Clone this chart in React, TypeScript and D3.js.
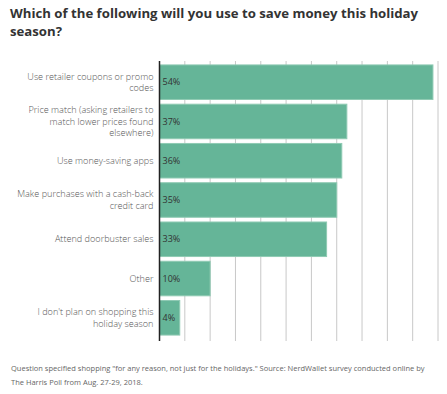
import { scaleBand, scaleLinear, range } from 'd3'

const WIDTH = 447
const HEIGHT = 394
const MARGIN = { top: 61, right: 9, bottom: 53, left: 159.5 }

const TITLE = ['Which of the following will you use to save money this holiday', 'season?']
const FOOTNOTE = [
  'Question specified shopping "for any reason, not just for the holidays."  Source: NerdWallet survey conducted online by',
  'The Harris Poll from Aug. 27-29, 2018.',
]

const categories = [
  'Use retailer coupons or promo\ncodes',
  'Price match (asking retailers to\nmatch lower prices found\nelsewhere)',
  'Use money-saving apps',
  'Make purchases with a cash-back\ncredit card',
  'Attend doorbuster sales',
  'Other',
  "I don't plan on shopping this\nholiday season",
]
const values = [54, 37, 36, 35, 33, 10, 4]
const gridTicks = range(5, 56, 5)

const FONT = '"Open Sans", sans-serif'
const BAR = '#65b598'

export default function App() {
  const x = scaleLinear().domain([0, 55]).range([MARGIN.left, WIDTH - MARGIN.right])
  const y = scaleBand<string>()
    .domain(categories)
    .range([MARGIN.top, HEIGHT - MARGIN.bottom - 2])
    .paddingInner(0.12)
    .paddingOuter(0.1)
  const lineH = 11.6

  return (
    <svg
      width={WIDTH}
      height={HEIGHT}
      style={{ position: 'absolute', left: 0, top: 0, display: 'block', background: '#fff' }}
    >
      {TITLE.map((t, i) => (
        <text key={i} x={10} y={18 + i * 17.5} fontFamily={FONT} fontWeight={700} fontSize={13.2} fill="#333">
          {t}
        </text>
      ))}

      {gridTicks.map((t) => (
        <line key={t} x1={x(t)} x2={x(t)} y1={MARGIN.top} y2={HEIGHT - MARGIN.bottom} stroke="#c8c8c8" strokeWidth={1} />
      ))}

      {categories.map((c, i) => {
        const y0 = y(c) ?? 0
        const bw = y.bandwidth()
        const cy = y0 + bw / 2
        const lines = c.split('\n')
        return (
          <g key={c}>
            <rect
              x={x(0)}
              y={y0}
              width={x(values[i]) - x(0)}
              height={bw}
              fill={BAR}
              stroke="#8fcab3"
              strokeWidth={1}
            />
            <text x={x(0) + 3} y={cy} dy="0.35em" fontFamily={FONT} fontSize={9} fill="#333">
              {values[i]}%
            </text>
            {lines.map((l, j) => (
              <text
                key={j}
                x={MARGIN.left - 6}
                y={cy + (j - (lines.length - 1) / 2) * lineH}
                dy="0.35em"
                textAnchor="end"
                fontFamily={FONT}
                fontWeight={300}
                fontSize={9.1}
                fill="#555"
              >
                {l}
              </text>
            ))}
          </g>
        )
      })}

      <line x1={x(0)} x2={x(0)} y1={MARGIN.top} y2={HEIGHT - MARGIN.bottom} stroke="#222" strokeWidth={1.5} />

      {FOOTNOTE.map((t, i) => (
        <text key={i} x={11} y={371 + i * 14} fontFamily={FONT} fontSize={7.5} fill="#666">
          {t}
        </text>
      ))}
    </svg>
  )
}
